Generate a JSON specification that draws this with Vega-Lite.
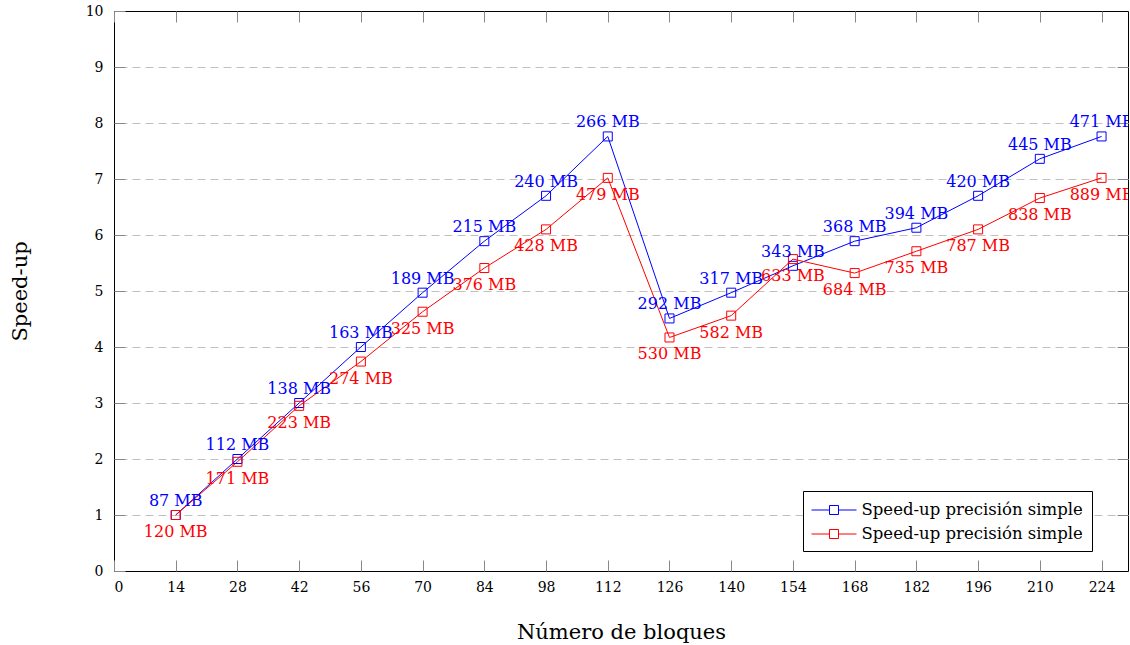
{
  "$schema": "https://vega.github.io/schema/vega-lite/v6.json",
  "width": 1014,
  "height": 560,
  "autosize": {"type": "none"},
  "padding": {"left": 114, "top": 11, "right": 2, "bottom": 74},
  "background": "white",
  "config": {
    "font": "DejaVu Serif",
    "view": {"stroke": "black", "strokeWidth": 1}
  },
  "data": {
    "values": [
      {"x": 14, "y": 1.0, "s": "a", "label": "87 MB"},
      {"x": 28, "y": 2.0, "s": "a", "label": "112 MB"},
      {"x": 42, "y": 3.0, "s": "a", "label": "138 MB"},
      {"x": 56, "y": 4.0, "s": "a", "label": "163 MB"},
      {"x": 70, "y": 4.97, "s": "a", "label": "189 MB"},
      {"x": 84, "y": 5.89, "s": "a", "label": "215 MB"},
      {"x": 98, "y": 6.7, "s": "a", "label": "240 MB"},
      {"x": 112, "y": 7.76, "s": "a", "label": "266 MB"},
      {"x": 126, "y": 4.51, "s": "a", "label": "292 MB"},
      {"x": 140, "y": 4.97, "s": "a", "label": "317 MB"},
      {"x": 154, "y": 5.45, "s": "a", "label": "343 MB"},
      {"x": 168, "y": 5.89, "s": "a", "label": "368 MB"},
      {"x": 182, "y": 6.13, "s": "a", "label": "394 MB"},
      {"x": 196, "y": 6.7, "s": "a", "label": "420 MB"},
      {"x": 210, "y": 7.36, "s": "a", "label": "445 MB"},
      {"x": 224, "y": 7.76, "s": "a", "label": "471 MB"},
      {"x": 14, "y": 1.0, "s": "b", "label": "120 MB"},
      {"x": 28, "y": 1.95, "s": "b", "label": "171 MB"},
      {"x": 42, "y": 2.95, "s": "b", "label": "223 MB"},
      {"x": 56, "y": 3.74, "s": "b", "label": "274 MB"},
      {"x": 70, "y": 4.63, "s": "b", "label": "325 MB"},
      {"x": 84, "y": 5.41, "s": "b", "label": "376 MB"},
      {"x": 98, "y": 6.1, "s": "b", "label": "428 MB"},
      {"x": 112, "y": 7.02, "s": "b", "label": "479 MB"},
      {"x": 126, "y": 4.17, "s": "b", "label": "530 MB"},
      {"x": 140, "y": 4.56, "s": "b", "label": "582 MB"},
      {"x": 154, "y": 5.57, "s": "b", "label": "633 MB"},
      {"x": 168, "y": 5.32, "s": "b", "label": "684 MB"},
      {"x": 182, "y": 5.71, "s": "b", "label": "735 MB"},
      {"x": 196, "y": 6.1, "s": "b", "label": "787 MB"},
      {"x": 210, "y": 6.66, "s": "b", "label": "838 MB"},
      {"x": 224, "y": 7.02, "s": "b", "label": "889 MB"}
    ]
  },
  "layer": [
    {
      "mark": {"type": "point", "opacity": 0},
      "encoding": {
        "x": {"field": "x", "type": "quantitative", "scale": {"domain": [0, 230], "nice": false, "zero": false}, "axis": {"orient": "top", "values": [0, 14, 28, 42, 56, 70, 84, 98, 112, 126, 140, 154, 168, 182, 196, 210, 224], "labels": false, "title": null, "grid": false, "domain": false, "tickSize": -11, "tickColor": "#888888"}},
        "y": {"field": "y", "type": "quantitative", "scale": {"domain": [0, 10], "nice": false}, "axis": {"orient": "right", "values": [1, 2, 3, 4, 5, 6, 7, 8, 9], "labels": false, "title": null, "grid": true, "gridDash": [8, 5], "gridColor": "#c0c0c0", "domain": false, "tickSize": -11, "tickColor": "#888888"}}
      }
    },
    {
      "encoding": {
        "x": {
          "field": "x", "type": "quantitative",
          "scale": {"domain": [0, 230], "nice": false, "zero": false},
          "axis": {
            "orient": "bottom",
            "title": "Número de bloques",
            "values": [0, 14, 28, 42, 56, 70, 84, 98, 112, 126, 140, 154, 168, 182, 196, 210, 224],
            "grid": false,
            "domain": false,
            "tickSize": -11,
            "tickColor": "#888888",
            "labelPadding": 20,
            "labelFontSize": 14,
            "labelColor": "black",
            "titleFontSize": 21,
            "titleFontWeight": "normal",
            "titleColor": "black",
            "titlePadding": 27
          }
        },
        "y": {
          "field": "y", "type": "quantitative",
          "scale": {"domain": [0, 10], "nice": false},
          "axis": {
            "orient": "left",
            "title": "Speed-up",
            "values": [0, 1, 2, 3, 4, 5, 6, 7, 8, 9, 10],
            "grid": false,
            "domain": false,
            "tickSize": -11,
            "tickColor": "#888888",
            "labelPadding": 22,
            "labelFontSize": 14,
            "labelColor": "black",
            "titleFontSize": 21,
            "titleFontWeight": "normal",
            "titleColor": "black",
            "titlePadding": 55
          }
        }
      },
      "layer": [
        {
          "mark": {"type": "line", "strokeWidth": 1, "point": {"shape": "square", "filled": false, "size": 81, "strokeWidth": 1}},
          "encoding": {
            "color": {
              "field": "s", "type": "nominal",
              "scale": {"domain": ["a", "b"], "range": ["#0000ff", "#ff0000"]},
              "legend": {
                "title": null,
                "orient": "none",
                "legendX": 689,
                "legendY": 480,
                "labelExpr": "'Speed-up precisión simple'",
                "labelFontSize": 16.5,
                "labelColor": "black",
                "labelLimit": 500,
                "strokeColor": "black",
                "fillColor": "white",
                "padding": 8.5,
                "symbolType": "M-2.25,0H-0.45M0.45,0H2.25M-0.45,-0.45H0.45V0.45H-0.45Z",
                "symbolSize": 400,
                "symbolOffset": 12,
                "symbolStrokeWidth": 1,
                "symbolFillColor": "transparent",
                "rowPadding": 5,
                "labelOffset": 17
              }
            }
          }
        },
        {
          "transform": [{"filter": "datum.s == 'a'"}],
          "mark": {"type": "text", "dy": -14, "fontSize": 16, "color": "#0000ff", "clip": true},
          "encoding": {"text": {"field": "label"}}
        },
        {
          "transform": [{"filter": "datum.s == 'b'"}],
          "mark": {"type": "text", "dy": 17, "fontSize": 16, "color": "#ff0000", "clip": true},
          "encoding": {"text": {"field": "label"}}
        }
      ]
    }
  ],
  "resolve": {"axis": {"x": "independent", "y": "independent"}}
}
